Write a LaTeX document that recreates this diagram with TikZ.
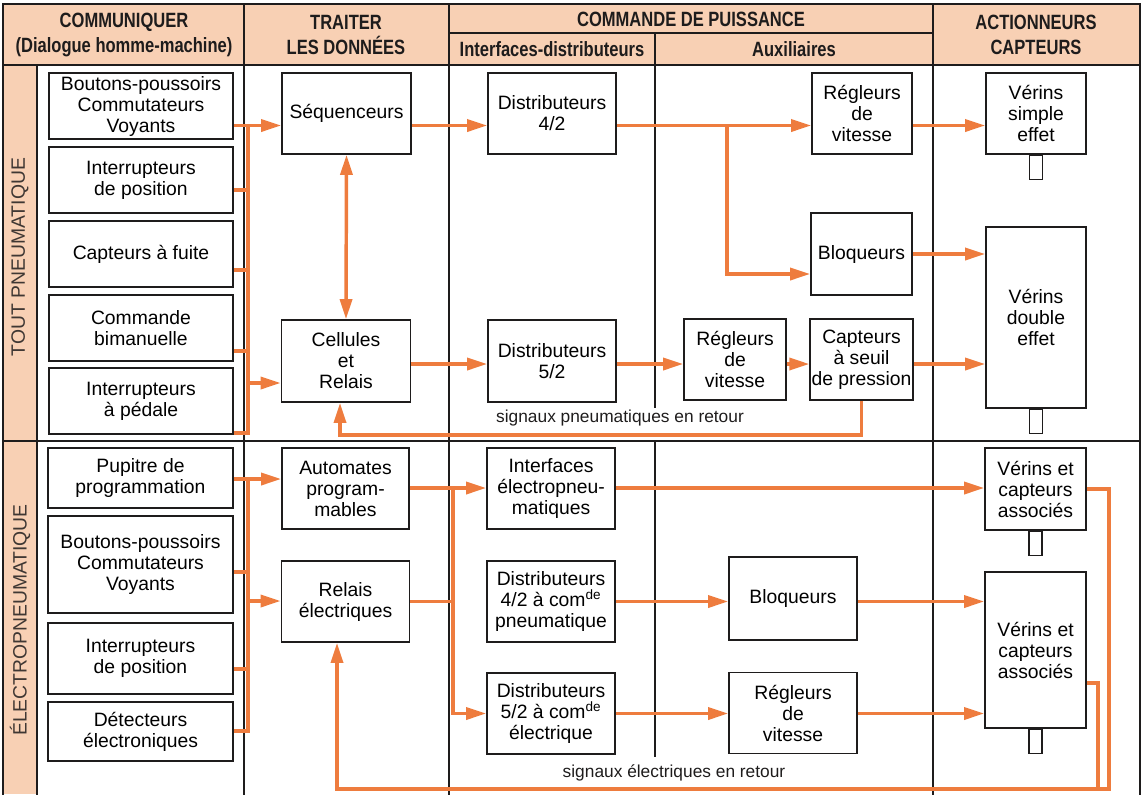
\documentclass[tikz,border=0pt]{standalone}
\usepackage{fontspec}
\setmainfont{Liberation Sans}
\newfontfamily\entetefont[FakeStretch=0.8]{Liberation Sans}
\usetikzlibrary{arrows.meta,positioning,calc}

\definecolor{saumon}{RGB}{248,208,180}
\definecolor{orangeL}{RGB}{238,124,62}
\definecolor{trait}{RGB}{30,28,28}

\begin{document}
\begin{tikzpicture}[x=0.75pt,y=-0.75pt,
    bloc/.style={draw=trait, line width=1.3pt, rectangle, align=center, inner sep=1pt,
                 font=\fontsize{14.5}{15.75}\selectfont},
    taille/.style 2 args={minimum width=#1*0.75pt, minimum height=#2*0.75pt},
    tige/.style={draw=trait, line width=1pt, minimum width=9.75pt, minimum height=18pt, inner sep=0pt},
    entete/.style={align=center, inner sep=0pt, text=trait,
                   font=\entetefont\bfseries\fontsize{15.5}{18.75}\selectfont},
    bande/.style={rotate=90, inner sep=0pt, text=trait!85!saumon, font=\fontsize{14.5}{17}\selectfont},
    legende/.style={inner sep=0pt, text=trait, font=\fontsize{13}{15}\selectfont},
    liaison/.style={draw=orangeL, line width=2.6pt},
    fleche/.style={liaison, -{Triangle[length=15pt,width=9pt]}},
    fleche2/.style={liaison, {Triangle[length=15pt,width=9pt]}-{Triangle[length=15pt,width=9pt]}},
    cadre/.style={draw=trait, line width=1pt}]

    \useasboundingbox (0,0) rectangle (1148,794);
    \clip (0,0) rectangle (1148,794);

    % bandeaux colores
    \fill[saumon] (3,4) rectangle (1140,65);
    \fill[saumon] (3,65) rectangle (37,794);

    % grille du tableau
    \draw[cadre, line width=1.4pt] (3,800) -- (3,4) -- (1140,4) -- (1140,800);
    \draw[cadre] (3,65) -- (1140,65);
    \draw[cadre] (449,33) -- (933,33);
    \draw[cadre] (37,65) -- (37,800);
    \foreach \x in {244,449,933}
        \draw[cadre] (\x,4) -- (\x,800);
    \draw[cadre] (655,33) -- (655,408);
    \draw[cadre] (3,441) -- (1140,441);
    \draw[cadre] (655,441) -- (655,757);

    % titres
    \node[entete] (t_comm) at (124,34.5) {COMMUNIQUER\\(Dialogue homme-machine)};
    \node[entete] (t_trait) at (346,34.5) {TRAITER\\LES DONNÉES};
    \node[entete] (t_cmd) at (691,19) {COMMANDE DE PUISSANCE};
    \node[entete] (t_int) at (552,49) {Interfaces-distributeurs};
    \node[entete] (t_aux) at (794,49) {Auxiliaires};
    \node[entete] (t_act) at (1036,34.5) {ACTIONNEURS\\CAPTEURS};

    \node[bande] (tout_pn) at (20,257) {TOUT PNEUMATIQUE};
    \node[bande] (electro) at (20,620) {ÉLECTROPNEUMATIQUE};

    % ---- tout pneumatique ----
    \node[bloc, taille={184}{66}] (bp1) at (141,106) {Boutons-poussoirs\\Commutateurs\\Voyants};
    \node[bloc, taille={184}{66}] (ip1) at (141,180) {Interrupteurs\\de position};
    \node[bloc, taille={184}{66}] (cf) at (141,254) {Capteurs à fuite};
    \node[bloc, taille={184}{66}] (cb) at (141,328) {Commande\\bimanuelle};
    \node[bloc, taille={184}{66}] (ped) at (141,401) {Interrupteurs\\à pédale};

    \node[bloc, taille={129}{81}] (seq) at (346.5,113.5) {Séquenceurs};
    \node[bloc, taille={129}{82}] (cel) at (346,361) {Cellules\\et\\Relais};
    \node[bloc, taille={128}{81}] (d42) at (552,113.5) {Distributeurs\\4/2};
    \node[bloc, taille={128}{82}] (d52) at (552,361) {Distributeurs\\5/2};
    \node[bloc, taille={100}{81}] (rv1) at (862,113.5) {Régleurs\\de\\vitesse};
    \node[bloc, taille={101}{82}] (bl1) at (861.5,254) {Bloqueurs};
    \node[bloc, taille={102}{81}] (rv2) at (735,359.5) {Régleurs\\de\\vitesse};
    \node[bloc, taille={101}{81}] (cs) at (861.5,359.5) {Capteurs\\à seuil\\de pression};
    \node[bloc, taille={100}{81}] (vse) at (1036,113.5) {Vérins\\simple\\effet};
    \node[bloc, taille={100}{181}] (vde) at (1036,317.5) {Vérins\\double\\effet};
    \node[tige, anchor=north] (tige1) at (vse.south) {};
    \node[tige, anchor=north] (tige2) at (vde.south) {};

    \coordinate (pA) at (248,125.5);
    \coordinate (pB) at (248,190);
    \coordinate (pC) at (248,270);
    \coordinate (pD) at (248,351);
    \coordinate (pE) at (248,383);
    \coordinate (pF) at (248,433);
    \coordinate (pR) at (0,364);
    \coordinate (nB) at (727,274);
    \coordinate (pRet) at (340,435);

    \draw[liaison] (bp1.east |- pA) -- (pA) -- (pF) -- (ped.east |- pF);
    \foreach \b/\p in {ip1/pB, cf/pC, cb/pD}
        \draw[liaison] (\b.east |- \p) -- (\p);
    \draw[fleche] (pA) -- (seq.west |- pA);
    \draw[fleche] (pE) -- (cel.west |- pE);
    \draw[fleche2] (seq.south) -- (cel.north);

    \draw[fleche] (seq.east |- pA) -- (d42.west |- pA);
    \draw[fleche] (d42.east |- pA) -- (rv1.west |- pA);
    \draw[fleche] (nB |- pA) -- (nB) -- (bl1.west |- nB);
    \draw[fleche] (rv1.east |- pA) -- (vse.west |- pA);
    \draw[fleche] (bl1.east) -- (vde.west |- bl1.east);

    \draw[fleche] (cel.east |- pR) -- (d52.west |- pR);
    \draw[fleche] (d52.east |- pR) -- (rv2.west |- pR);
    \draw[fleche] (rv2.east |- pR) -- (cs.west |- pR);
    \draw[fleche] (cs.east |- pR) -- (vde.west |- pR);

    \draw[fleche] (cs.south) |- (pRet) -- (pRet |- cel.south);
    \node[legende] (sig_pn) at (620,418) {signaux pneumatiques en retour};

    % ---- electropneumatique ----
    \node[bloc, taille={185}{60}] (pup) at (140.5,478) {Pupitre de\\programmation};
    \node[bloc, taille={185}{97}] (bp2) at (140.5,564.5) {Boutons-poussoirs\\Commutateurs\\Voyants};
    \node[bloc, taille={185}{71}] (ip2) at (140.5,658.5) {Interrupteurs\\de position};
    \node[bloc, taille={185}{59}] (det) at (140.5,731.5) {Détecteurs\\électroniques};

    \node[bloc, taille={127}{81}] (aut) at (345.5,488.5) {Automates\\program-\\mables};
    \node[bloc, taille={128}{81}] (rel) at (345.5,601.5) {Relais\\électriques};
    \node[bloc, taille={128}{81}] (ie) at (551,488.5) {Interfaces\\électropneu-\\matiques};
    \node[bloc, taille={128}{81}] (d42c) at (551,601.5) {Distributeurs\\4/2 à com\textsuperscript{de}\\pneumatique};
    \node[bloc, taille={128}{81}] (d52c) at (551,713.5) {Distributeurs\\5/2 à com\textsuperscript{de}\\électrique};
    \node[bloc, taille={128}{83}] (bl2) at (793,598.5) {Bloqueurs};
    \node[bloc, taille={128}{81}] (rv3) at (793,713) {Régleurs\\de\\vitesse};
    \node[bloc, taille={101}{82}] (va) at (1035.5,489) {Vérins et\\capteurs\\associés};
    \node[bloc, taille={101}{156}] (vb) at (1035.5,650) {Vérins et\\capteurs\\associés};
    \node[tige, anchor=north] (tige3) at (va.south) {};
    \node[tige, anchor=north] (tige4) at (vb.south) {};

    \coordinate (qA) at (248,479);
    \coordinate (qB) at (248,572);
    \coordinate (qC) at (248,669);
    \coordinate (qD) at (248,731);
    \coordinate (qR) at (248,601);
    \coordinate (mA) at (453,488);
    \coordinate (cE) at (1109,789);
    \coordinate (cF) at (1098,683);
    \coordinate (qRet) at (337,789);

    \draw[liaison] (pup.east |- qA) -- (qA) -- (qD) -- (det.east |- qD);
    \foreach \b/\p in {bp2/qB, ip2/qC}
        \draw[liaison] (\b.east |- \p) -- (\p);
    \draw[fleche] (qA) -- (aut.west |- qA);
    \draw[fleche] (qR) -- (rel.west |- qR);

    \draw[fleche] (aut.east |- mA) -- (ie.west |- mA);
    \draw[fleche] (mA) |- (d52c.west);
    \draw[liaison] (rel.east) -- (mA |- rel.east);
    \draw[fleche] (ie.east |- mA) -- (va.west |- mA);
    \draw[fleche] (d42c.east) -- (bl2.west |- d42c.east);
    \draw[fleche] (bl2.east |- d42c.east) -- (vb.west |- d42c.east);
    \draw[fleche] (d52c.east) -- (rv3.west |- d52c.east);
    \draw[fleche] (rv3.east |- d52c.east) -- (vb.west |- d52c.east);

    \draw[fleche] (va.east) -| (cE) -- (qRet) -- (qRet |- rel.south);
    \draw[liaison] (vb.east |- cF) -- (cF) -- (cF |- cE);
    \node[legende] (sig_el) at (674,773) {signaux électriques en retour};

\end{tikzpicture}
\end{document}
